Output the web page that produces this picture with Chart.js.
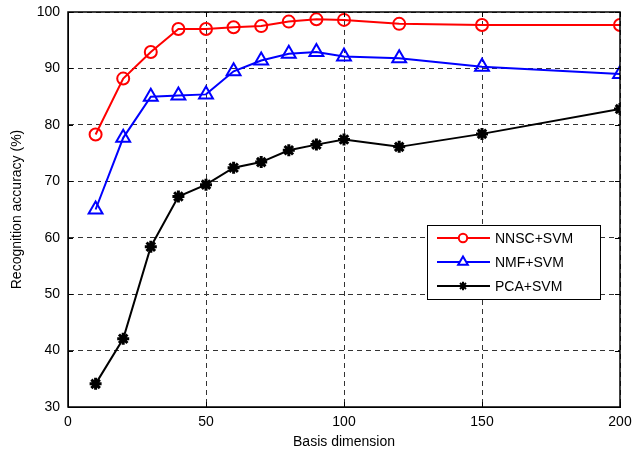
<!DOCTYPE html>
<html>
<head>
<meta charset="utf-8">
<script src="https://cdn.jsdelivr.net/npm/chart.js@4/dist/chart.umd.min.js"></script>
<style>
  html, body { margin: 0; padding: 0; background: #fff; }
  #wrap { width: 633px; height: 454px; }
</style>
</head>
<body>
<div id="wrap"><canvas id="chart" width="633" height="454"></canvas></div>
<script>
// basis dimensions on the x axis
const dims = [10, 20, 30, 40, 50, 60, 70, 80, 90, 100, 120, 150, 200];
const seriesNames = ["NNSC+SVM", "NMF+SVM", "PCA+SVM"];
const nnsc = [78.3, 88.2, 92.9, 97.0, 97.0, 97.3, 97.5, 98.3, 98.7, 98.6, 97.9, 97.7, 97.7];
const nmf = [65.0, 77.7, 85.0, 85.2, 85.4, 89.5, 91.4, 92.6, 92.9, 92.1, 91.8, 90.3, 89.0];
const pca = [34.1, 42.1, 58.4, 67.3, 69.4, 72.4, 73.4, 75.5, 76.5, 77.4, 76.1, 78.4, 82.8];
const xTicks = [0, 50, 100, 150, 200];
const yTicks = [30, 40, 50, 60, 70, 80, 90, 100];

const font = { family: "'Liberation Sans', Arial, sans-serif", size: 14 };

function pts(vals) {
	return dims.map((d, i) => ({ x: d, y: vals[i] }));
}

// legend box drawn inside the plot, matlab style
const boxLegend = {
	id: "boxLegend",
	afterDraw(chart) {
		const ctx = chart.ctx;
		const left = 427, top = 225, w = 173, h = 74;
		ctx.save();
		ctx.fillStyle = "#fff";
		ctx.fillRect(left, top, w, h);
		ctx.strokeStyle = "#000";
		ctx.lineWidth = 1;
		ctx.strokeRect(left + 0.5, top + 0.5, w, h);
		ctx.font = "14px " + font.family;
		ctx.textBaseline = "middle";
		chart.data.datasets.forEach((ds, i) => {
			const y = top + 13 + i * 24;
			ctx.strokeStyle = ds.borderColor;
			ctx.lineWidth = 2;
			ctx.beginPath();
			ctx.moveTo(437, y);
			ctx.lineTo(490, y);
			ctx.stroke();
			ctx.fillStyle = ds.pointStyle === "star" ? "#000" : "#fff";
			Chart.helpers.drawPoint(ctx, {
				pointStyle: ds.pointStyle,
				radius: ds.pointRadius * 0.7,
				borderWidth: 2,
				rotation: 0
			}, 463, y);
			ctx.fillStyle = "#000";
			ctx.fillText(ds.label, 495, y + 1);
		});
		ctx.restore();
	}
};

// solid box plus small inward ticks on all four sides
const frame = {
	id: "frame",
	afterDatasetsDraw(chart) {
		const a = chart.chartArea, ctx = chart.ctx;
		const xs = chart.scales.x, ys = chart.scales.y;
		ctx.save();
		ctx.strokeStyle = "#000";
		ctx.lineWidth = 1.5;
		ctx.strokeRect(a.left, a.top, a.right - a.left, a.bottom - a.top);
		ctx.lineWidth = 1;
		ctx.beginPath();
		xTicks.forEach((v) => {
			const px = Math.round(xs.getPixelForValue(v)) + 0.5;
			ctx.moveTo(px, a.bottom); ctx.lineTo(px, a.bottom - 5);
			ctx.moveTo(px, a.top); ctx.lineTo(px, a.top + 5);
		});
		yTicks.forEach((v) => {
			const py = Math.round(ys.getPixelForValue(v)) + 0.5;
			ctx.moveTo(a.left, py); ctx.lineTo(a.left + 5, py);
			ctx.moveTo(a.right, py); ctx.lineTo(a.right - 5, py);
		});
		ctx.stroke();
		ctx.restore();
	}
};

new Chart(document.getElementById("chart"), {
	type: "line",
	data: {
		datasets: [
			{
				label: seriesNames[0],
				data: pts(nnsc),
				borderColor: "#ff0000",
				backgroundColor: "rgba(0,0,0,0)",
				pointStyle: "circle",
				pointRadius: 6,
				pointBorderWidth: 2,
				borderWidth: 2
			},
			{
				label: seriesNames[1],
				data: pts(nmf),
				borderColor: "#0000ff",
				backgroundColor: "rgba(0,0,0,0)",
				pointStyle: "triangle",
				pointRadius: 8,
				pointBorderWidth: 2,
				borderWidth: 2
			},
			{
				label: seriesNames[2],
				data: pts(pca),
				borderColor: "#000000",
				backgroundColor: "#000000",
				pointStyle: "star",
				pointRadius: 6,
				pointBorderWidth: 3,
				borderWidth: 2
			}
		]
	},
	options: {
		responsive: false,
		animation: false,
		layout: { padding: { top: 12, right: 13, left: 0, bottom: 0 } },
		plugins: {
			legend: { display: false },
			tooltip: { enabled: false }
		},
		scales: {
			x: {
				type: "linear",
				min: 0,
				max: 200,
				afterBuildTicks: (s) => { s.ticks = xTicks.map((v) => ({ value: v })); },
				afterFit: (s) => { s.height = 47; s.paddingLeft = 0; s.paddingRight = 0; },
				ticks: { color: "#000", font: font, padding: 7, maxRotation: 0 },
				grid: { color: "#333", lineWidth: 1, drawTicks: false },
				border: { display: true, color: "#000", width: 1, dash: [5, 4] },
				title: { display: true, text: "Basis dimension", color: "#000", font: font, padding: { top: 2, bottom: 3 } }
			},
			y: {
				min: 30,
				max: 100,
				afterBuildTicks: (s) => { s.ticks = yTicks.map((v) => ({ value: v })); },
				afterFit: (s) => { s.width = 68; s.paddingTop = 0; s.paddingBottom = 0; },
				ticks: { color: "#000", font: font, padding: 8 },
				grid: { color: "#333", lineWidth: 1, drawTicks: false },
				border: { display: true, color: "#000", width: 1, dash: [5, 4] },
				title: { display: true, text: "Recognition accuracy (%)", color: "#000", font: font, padding: { top: 9, bottom: 6 } }
			}
		}
	},
	plugins: [boxLegend, frame]
});
</script>
</body>
</html>
